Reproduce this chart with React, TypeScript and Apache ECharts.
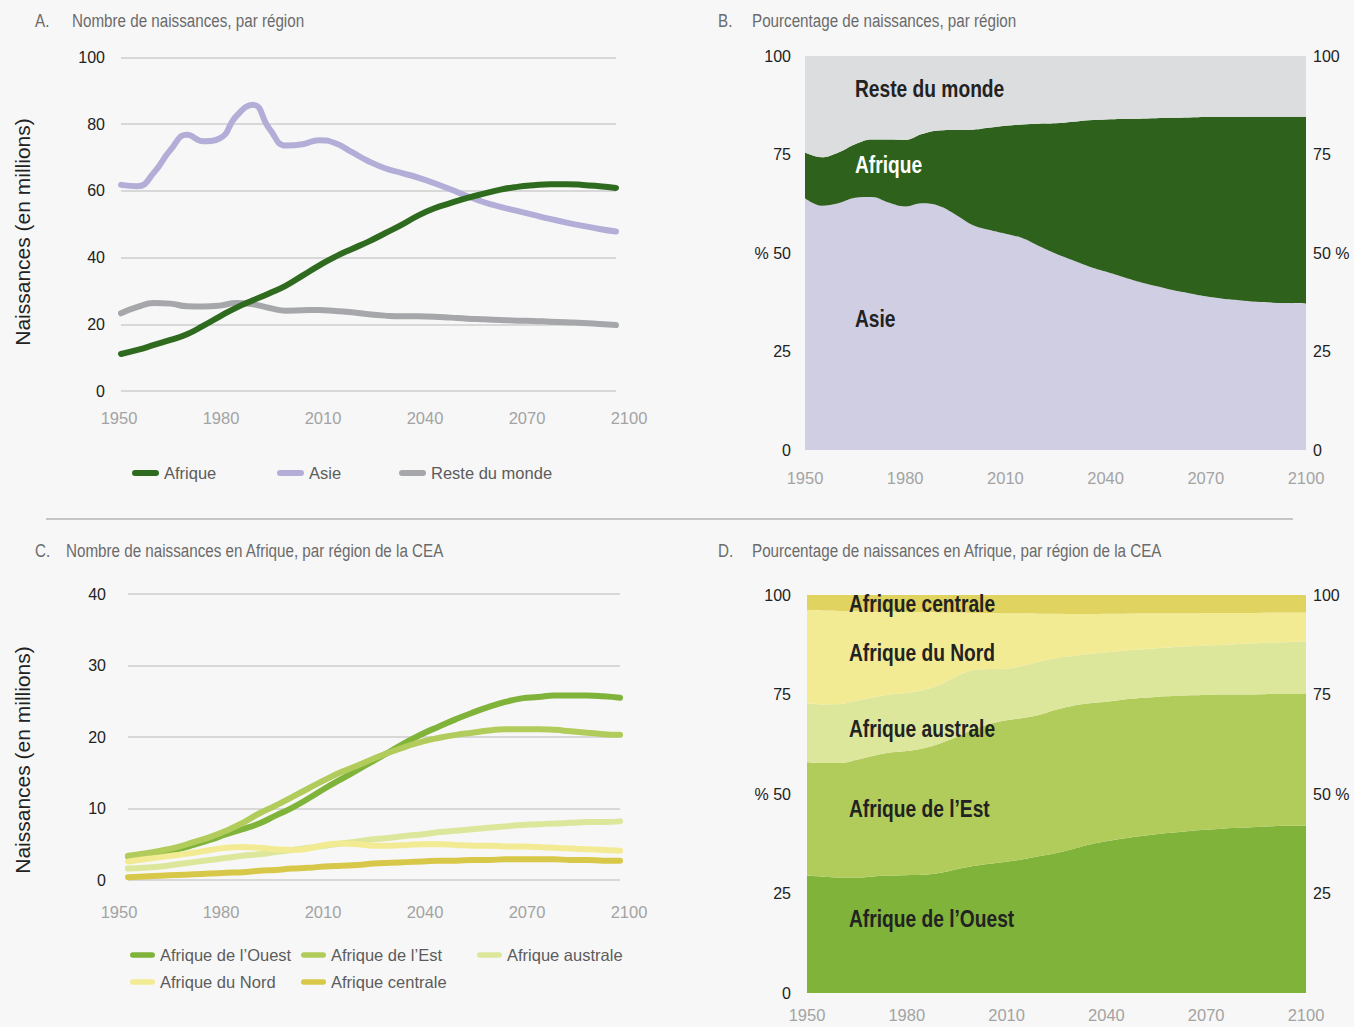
import React, { useEffect, useRef } from "react";
import * as echarts from "echarts";

const YEARS = [1950, 1955, 1960, 1965, 1970, 1975, 1980, 1985, 1990, 1995, 2000, 2005, 2010, 2015, 2020, 2025, 2030, 2035, 2040, 2045, 2050, 2055, 2060, 2065, 2070, 2075, 2080, 2085, 2090, 2095, 2100];

// Panel A – births (millions)
const A_AFRIQUE = [11.1, 12.3, 13.8, 15.3, 17.0, 19.6, 22.4, 25.0, 27.2, 29.3, 31.6, 34.6, 37.6, 40.3, 42.6, 44.8, 47.3, 49.8, 52.6, 54.8, 56.4, 57.9, 59.2, 60.4, 61.2, 61.7, 62.0, 62.0, 61.8, 61.4, 60.9];
const A_ASIE = [61.8, 61.4, 65.5, 72.3, 76.8, 74.9, 75.8, 82.5, 85.8, 78.6, 73.6, 74.0, 75.2, 74.3, 71.6, 68.9, 66.8, 65.4, 64.0, 62.3, 60.4, 58.4, 56.6, 55.2, 54.0, 52.8, 51.6, 50.5, 49.5, 48.6, 47.8];
const A_RESTE = [23.3, 25.2, 26.4, 26.2, 25.4, 25.3, 25.6, 26.4, 26.0, 24.9, 24.1, 24.2, 24.3, 24.0, 23.6, 23.0, 22.6, 22.4, 22.4, 22.3, 22.0, 21.7, 21.5, 21.3, 21.1, 21.0, 20.8, 20.6, 20.4, 20.1, 19.8];

// Panel B – share of births (%)
const B_ASIE = [63.9, 62.0, 62.6, 64.0, 64.2, 62.8, 61.8, 62.6, 62.0, 59.8, 57.2, 55.9, 54.9, 53.8, 51.8, 49.9, 48.2, 46.6, 45.3, 44.0, 42.7, 41.6, 40.6, 39.8, 39.0, 38.4, 38.0, 37.6, 37.4, 37.3, 37.2];
const B_AFRIQUE = [11.6, 12.3, 12.9, 13.6, 14.6, 16.0, 16.9, 17.6, 19.1, 21.4, 24.1, 25.9, 27.4, 28.8, 31.0, 33.0, 35.1, 37.1, 38.6, 40.0, 41.4, 42.6, 43.7, 44.6, 45.5, 46.1, 46.5, 47.0, 47.2, 47.3, 47.4];
const B_RESTE = [24.5, 25.7, 24.5, 22.4, 21.2, 21.2, 21.3, 19.8, 18.9, 18.8, 18.7, 18.2, 17.7, 17.4, 17.2, 17.1, 16.7, 16.3, 16.1, 16.0, 15.9, 15.8, 15.7, 15.6, 15.5, 15.5, 15.5, 15.4, 15.4, 15.4, 15.4];

// Panel C – births in Africa by region (millions)
const C_OUEST = [3.3, 3.6, 3.9, 4.3, 4.9, 5.6, 6.4, 7.1, 7.9, 9.0, 10.1, 11.4, 12.8, 14.1, 15.4, 16.7, 18.0, 19.3, 20.5, 21.5, 22.5, 23.4, 24.2, 24.9, 25.4, 25.6, 25.8, 25.8, 25.8, 25.7, 25.5];
const C_EST = [3.4, 3.7, 4.1, 4.6, 5.3, 6.0, 6.9, 8.0, 9.3, 10.4, 11.6, 12.8, 14.0, 15.1, 16.0, 17.0, 17.9, 18.7, 19.4, 19.9, 20.3, 20.6, 20.9, 21.1, 21.1, 21.1, 21.0, 20.8, 20.6, 20.4, 20.3];
const C_AUSTRALE = [1.6, 1.7, 1.9, 2.2, 2.5, 2.8, 3.1, 3.4, 3.6, 3.9, 4.2, 4.5, 4.8, 5.1, 5.4, 5.7, 5.9, 6.2, 6.4, 6.7, 6.9, 7.1, 7.3, 7.5, 7.7, 7.8, 7.9, 8.0, 8.1, 8.1, 8.2];
const C_NORD = [2.6, 2.9, 3.2, 3.5, 3.8, 4.2, 4.5, 4.6, 4.5, 4.3, 4.2, 4.4, 4.9, 5.1, 5.0, 4.8, 4.8, 4.9, 5.0, 5.0, 4.9, 4.8, 4.8, 4.7, 4.7, 4.6, 4.5, 4.4, 4.3, 4.2, 4.1];
const C_CENTRALE = [0.4, 0.5, 0.6, 0.7, 0.8, 0.9, 1.0, 1.1, 1.3, 1.4, 1.6, 1.7, 1.9, 2.0, 2.1, 2.3, 2.4, 2.5, 2.6, 2.7, 2.7, 2.8, 2.8, 2.9, 2.9, 2.9, 2.9, 2.8, 2.8, 2.7, 2.7];

// Panel D – share of births in Africa by region (%)
const D_OUEST = [29.5, 29.2, 29.0, 29.0, 29.3, 29.5, 29.6, 29.7, 30.2, 31.1, 31.9, 32.5, 33.0, 33.6, 34.4, 35.2, 36.2, 37.3, 38.1, 38.8, 39.4, 39.9, 40.3, 40.7, 41.0, 41.3, 41.5, 41.7, 41.9, 42.0, 42.0];
const D_EST = [28.5, 28.6, 28.8, 29.6, 30.3, 30.9, 31.2, 31.8, 32.5, 33.2, 34.3, 35.1, 35.5, 35.5, 35.5, 36.0, 36.0, 35.5, 35.1, 34.9, 34.7, 34.5, 34.3, 34.1, 33.9, 33.7, 33.5, 33.3, 33.2, 33.1, 33.1];
const D_AUSTRALE = [14.8, 14.7, 14.8, 14.8, 14.7, 14.6, 14.6, 14.6, 14.8, 15.3, 14.9, 13.8, 13.0, 13.1, 13.4, 13.0, 12.5, 12.4, 12.4, 12.3, 12.2, 12.2, 12.3, 12.3, 12.4, 12.5, 12.7, 12.9, 12.9, 13.1, 13.2];
const D_NORD = [23.4, 23.6, 23.4, 22.5, 21.5, 20.8, 20.3, 19.6, 18.1, 16.0, 14.4, 14.1, 13.9, 13.2, 12.0, 11.1, 10.5, 10.0, 9.7, 9.3, 9.1, 8.8, 8.5, 8.3, 8.2, 8.0, 7.8, 7.6, 7.6, 7.4, 7.3];
const D_CENTRALE = [3.8, 3.9, 4.0, 4.1, 4.2, 4.2, 4.3, 4.3, 4.4, 4.4, 4.5, 4.5, 4.6, 4.6, 4.7, 4.7, 4.8, 4.8, 4.7, 4.7, 4.6, 4.6, 4.6, 4.6, 4.5, 4.5, 4.5, 4.5, 4.4, 4.4, 4.4];

const X_MIN = 1950;
const X_MAX = 2100;
const X_STEP = 30;

const FONT = "'Liberation Sans', Arial, Helvetica, sans-serif";

const COL = {
  afrique: "#2E6B1F",
  asie: "#B3AED8",
  reste: "#A6A7AB",
  bAsie: "#D0CEE3",
  bAfrique: "#2D611C",
  bReste: "#DCDDDF",
  ouest: "#7FB339",
  est: "#B1CC5B",
  australe: "#DDE79C",
  nord: "#F3EB93",
  centrale: "#E0D35F",
  centraleLine: "#D8C84A",
};

const PILL = "path://M3,0 L24,0 A3,3 0 0 1 24,6 L3,6 A3,3 0 0 1 3,0 Z";

const pairs = (vals: number[]) => YEARS.map((y, i) => [y, vals[i]]);
const yearFmt = (v: number | string) => String(v);

function buildOption() {
  const hiddenX = (gridIndex: number) => ({
    type: "value", gridIndex, min: X_MIN, max: X_MAX, interval: X_STEP,
    axisLine: { show: false }, axisTick: { show: false }, axisLabel: { show: false }, splitLine: { show: false },
  });
  const xLabelStyle = (margin: number) => ({ color: "#A3A3A3", fontSize: 16.5, fontFamily: FONT, margin, formatter: yearFmt });
  const labelX = (gridIndex: number, margin: number) => ({
    type: "value", gridIndex, min: X_MIN, max: X_MAX, interval: X_STEP,
    axisLine: { show: false }, axisTick: { show: false }, splitLine: { show: false },
    axisLabel: xLabelStyle(margin),
  });
  const catX = (gridIndex: number, margin: number) => ({
    type: "category", gridIndex, data: YEARS.map(String), boundaryGap: false,
    axisLine: { show: false }, axisTick: { show: false }, splitLine: { show: false },
    axisLabel: { ...xLabelStyle(margin), interval: 5 },
  });
  const hiddenY = (gridIndex: number) => ({
    type: "value", gridIndex, min: 0, max: 1,
    axisLine: { show: false }, axisTick: { show: false }, axisLabel: { show: false }, splitLine: { show: false },
  });
  const pctY = (gridIndex: number, position: string, margin: number, fmt: (v: number) => string) => ({
    type: "value", gridIndex, position, min: 0, max: 100, interval: 25,
    axisLine: { show: false }, axisTick: { show: false }, splitLine: { show: false },
    axisLabel: { color: "#222", fontSize: 16, fontFamily: FONT, margin, formatter: fmt },
  });

  const line = (name: string, vals: number[], color: string, xi: number, yi: number) => ({
    name, type: "line", xAxisIndex: xi, yAxisIndex: yi, data: pairs(vals), smooth: 0.5,
    showSymbol: false, symbol: "none", lineStyle: { color, width: 6, cap: "round", join: "round" },
    itemStyle: { color }, emphasis: { disabled: true },
  });
  const area = (name: string, vals: number[], color: string, xi: number, yi: number, stack: string) => ({
    name, type: "line", xAxisIndex: xi, yAxisIndex: yi, data: vals, smooth: 0.4, stack,
    showSymbol: false, symbol: "none", lineStyle: { width: 0, color }, areaStyle: { color, opacity: 1 },
    itemStyle: { color }, emphasis: { disabled: true },
  });

  const legendBase = {
    orient: "horizontal", padding: 0, itemWidth: 27, itemHeight: 6, itemGap: 0, icon: PILL, selectedMode: false,
    textStyle: { color: "#5c5c5c", fontSize: 16.5, fontFamily: FONT, lineHeight: 22 },
  };
  const legC = { ...legendBase, itemWidth: 25 };

  const SX = 0.8;
  const title = (letter: string, text: string, x0: number, x1: number, y: number) => [
    { type: "text", z: 100, x: x0, y, scaleX: SX, style: { text: letter, fill: "#6b6b6b", fontSize: 19, fontFamily: FONT, align: "left", verticalAlign: "middle" } },
    { type: "text", z: 100, x: x1, y, scaleX: SX, style: { text, fill: "#6b6b6b", fontSize: 19, fontFamily: FONT, align: "left", verticalAlign: "middle" } },
  ];
  const areaLabel = (text: string, x: number, y: number, fill = "#222") => ({
    type: "text", z: 100, x, y, scaleX: 0.8,
    style: { text, fill, fontSize: 24, fontWeight: "bold", fontFamily: FONT, align: "left", verticalAlign: "middle" },
  });
  const yTitle = (y: number) => ({
    type: "text", z: 100, x: 22, y, rotation: Math.PI / 2,
    style: { text: "Naissances (en millions)", fill: "#222", fontSize: 21, fontFamily: FONT, align: "center", verticalAlign: "middle" },
  });

  return {
    animation: false,
    backgroundColor: "#F7F7F7",
    textStyle: { fontFamily: FONT },
    grid: [
      { left: 121, top: 57.5, width: 495, height: 333.5 }, // 0 A
      { left: 119, top: 57.5, width: 510, height: 333.5 }, // 1 A labels
      { left: 805, top: 56, width: 501, height: 394 },     // 2 B
      { left: 128, top: 594, width: 492, height: 286 },    // 3 C
      { left: 119, top: 594, width: 510, height: 286 },    // 4 C labels
      { left: 807, top: 595, width: 499, height: 398 },    // 5 D
    ],
    xAxis: [hiddenX(0), labelX(1, 18), catX(2, 19), hiddenX(3), labelX(4, 23), catX(5, 13)],
    yAxis: [
      {
        type: "value", gridIndex: 0, min: 0, max: 100, interval: 20,
        axisLine: { show: false }, axisTick: { show: false },
        splitLine: { lineStyle: { color: "#D8D8D8", width: 2 } },
        axisLabel: { color: "#222", fontSize: 16, fontFamily: FONT, margin: 16 },
      },
      hiddenY(1),
      pctY(2, "left", 14, (v) => (v === 50 ? "% 50" : String(v))),
      pctY(2, "right", 7, (v) => (v === 50 ? "50 %" : String(v))),
      {
        type: "value", gridIndex: 3, min: 0, max: 40, interval: 10,
        axisLine: { show: false }, axisTick: { show: false },
        splitLine: { lineStyle: { color: "#D8D8D8", width: 2 } },
        axisLabel: { color: "#222", fontSize: 16, fontFamily: FONT, margin: 22 },
      },
      hiddenY(4),
      pctY(5, "left", 16, (v) => (v === 50 ? "% 50" : String(v))),
      pctY(5, "right", 7, (v) => (v === 0 ? "" : v === 50 ? "50 %" : String(v))),
    ],
    legend: [
      { ...legendBase, data: ["Afrique"], left: 132, top: 462 },
      { ...legendBase, data: ["Asie"], left: 277, top: 462 },
      { ...legendBase, data: ["Reste du monde"], left: 399, top: 462 },
      { ...legC, data: ["Afrique de l’Ouest"], left: 130, top: 944 },
      { ...legC, data: ["Afrique de l’Est"], left: 301, top: 944 },
      { ...legC, data: ["Afrique australe"], left: 477, top: 944 },
      { ...legC, data: ["Afrique du Nord"], left: 130, top: 971 },
      { ...legC, data: ["Afrique centrale"], left: 301, top: 971 },
    ],
    series: [
      line("Reste du monde", A_RESTE, COL.reste, 0, 0),
      line("Asie", A_ASIE, COL.asie, 0, 0),
      line("Afrique", A_AFRIQUE, COL.afrique, 0, 0),

      area("Asie (%)", B_ASIE, COL.bAsie, 2, 2, "B"),
      area("Afrique (%)", B_AFRIQUE, COL.bAfrique, 2, 2, "B"),
      area("Reste du monde (%)", B_RESTE, COL.bReste, 2, 2, "B"),

      line("Afrique de l’Ouest", C_OUEST, COL.ouest, 3, 4),
      line("Afrique de l’Est", C_EST, COL.est, 3, 4),
      line("Afrique australe", C_AUSTRALE, COL.australe, 3, 4),
      line("Afrique du Nord", C_NORD, COL.nord, 3, 4),
      line("Afrique centrale", C_CENTRALE, COL.centraleLine, 3, 4),

      area("Afrique de l’Ouest (%)", D_OUEST, COL.ouest, 5, 6, "D"),
      area("Afrique de l’Est (%)", D_EST, COL.est, 5, 6, "D"),
      area("Afrique australe (%)", D_AUSTRALE, COL.australe, 5, 6, "D"),
      area("Afrique du Nord (%)", D_NORD, COL.nord, 5, 6, "D"),
      area("Afrique centrale (%)", D_CENTRALE, COL.centrale, 5, 6, "D"),
    ],
    graphic: {
      elements: [
        ...title("A.", "Nombre de naissances, par région", 35, 72, 20),
        ...title("B.", "Pourcentage de naissances, par région", 718, 752, 20),
        ...title("C.", "Nombre de naissances en Afrique, par région de la CEA", 35, 66, 550),
        ...title("D.", "Pourcentage de naissances en Afrique, par région de la CEA", 718, 752, 550),
        yTitle(232),
        yTitle(760),
        { type: "line", z: 100, shape: { x1: 46, y1: 519, x2: 1293, y2: 519 }, style: { stroke: "#B4B4B4", lineWidth: 1.5 } },
        areaLabel("Reste du monde", 855, 89),
        areaLabel("Afrique", 855, 165, "#FFFFFF"),
        areaLabel("Asie", 855, 319),
        areaLabel("Afrique centrale", 849, 604),
        areaLabel("Afrique du Nord", 849, 653),
        areaLabel("Afrique australe", 849, 729),
        areaLabel("Afrique de l’Est", 849, 809),
        areaLabel("Afrique de l’Ouest", 849, 919),
      ],
    },
  };
}

export default function App() {
  const ref = useRef<HTMLDivElement>(null);
  useEffect(() => {
    if (!ref.current) return;
    const chart = echarts.init(ref.current, undefined, { renderer: "svg" });
    chart.setOption(buildOption() as any);
    return () => chart.dispose();
  }, []);
  return (
    <div
      ref={ref}
      style={{ position: "absolute", left: 0, top: 0, width: 1354, height: 1027, background: "#F7F7F7" }}
    />
  );
}
